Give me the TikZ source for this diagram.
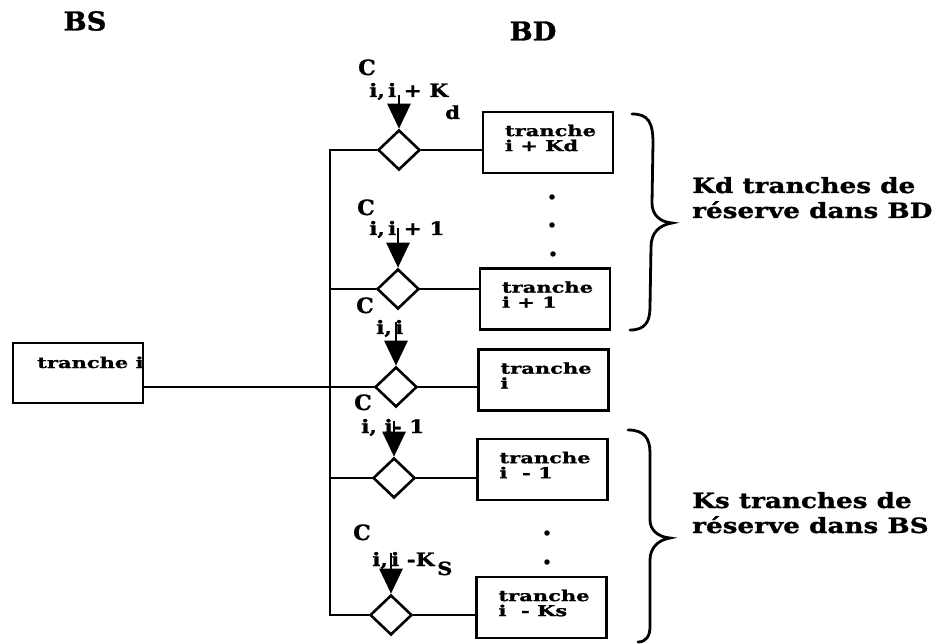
\documentclass[tikz,border=0pt]{standalone}
\usepackage{fontspec}
\setmainfont{DejaVu Serif}
\newfontfamily\tfont{DejaVu Serif}[FakeStretch=1.17,FakeBold=1.2]
\newfontfamily\bxfont{DejaVu Serif}[FakeStretch=1.4,FakeBold=1.2]
\newfontfamily\sdfont{DejaVu Serif}[FakeStretch=1.25,FakeBold=1.2]
\newfontfamily\hfont{DejaVu Serif}[FakeStretch=1.05,FakeBold=1.2]
\usetikzlibrary{shapes.geometric,arrows.meta}
\begin{document}
\begin{tikzpicture}[x=1pt,y=-1pt,
  box/.style={draw, line width=2.8pt, minimum width=130pt, minimum height=61pt, inner sep=0pt,
    font=\bxfont\bfseries\fontsize{15}{15}\selectfont},
  dia/.style={diamond, draw, line width=2.6pt, minimum width=42pt, minimum height=40pt, inner sep=0pt},
  wire/.style={line width=2.4pt},
  feed/.style={line width=2.8pt, -{Triangle[width=23pt,length=25pt]}},
  lbl/.style={font=\tfont\bfseries\fontsize{18.5}{18}\selectfont, inner sep=0pt, anchor=base west},
  clbl/.style={font=\hfont\bfseries\fontsize{21}{21}\selectfont, inner sep=0pt, anchor=base west},
  sub/.style={font=\tfont\bfseries\fontsize{18}{18}\selectfont, inner sep=0pt, anchor=base west},
  title/.style={font=\hfont\bfseries\fontsize{26}{26}\selectfont, inner sep=0pt},
  side/.style={font=\sdfont\bfseries\fontsize{21}{25}\selectfont, inner sep=0pt, anchor=base west, align=left},
  brace/.style={line width=2.8pt, line cap=round},
  dot/.style={circle, fill, inner sep=0pt, minimum size=5.5pt}
]
\useasboundingbox (0,0) rectangle (937,644);

% titles
\node[title] (BS) at (85,21) {BS};
\node[title] (BD) at (533,31) {BD};

% diamonds
\node[dia] (d1) at (399,150) {};
\node[dia] (d2) at (398,289) {};
\node[dia] (d3) at (396,387) {};
\node[dia] (d4) at (394,478) {};
\node[dia] (d5) at (391,615) {};

% boxes
\node[box] (b1) at (548,142.5) {\parbox{130pt}{\leftskip=22pt tranche\\i + Kd\par\vspace{9pt}}};
\node[box] (b2) at (545,299) {\parbox{130pt}{\leftskip=22pt tranche\\i + 1\par\vspace{9pt}}};
\node[box] (b3) at (543.5,380) {\parbox{130pt}{\leftskip=22pt tranche\\i\par\vspace{9pt}}};
\node[box] (b4) at (542.5,469.5) {\parbox{130pt}{\leftskip=22pt tranche\\i \ - 1\par\vspace{9pt}}};
\node[box] (b5) at (541.5,607.5) {\parbox{130pt}{\leftskip=22pt tranche\\i \ - Ks\par\vspace{9pt}}};

% left box
\node[box, minimum height=60pt] (L) at (78,373) {};
\node[font=\bxfont\bfseries\fontsize{15}{15}\selectfont, inner sep=0pt, anchor=base west] (Lt) at (37,368) {tranche i};

% bus
\coordinate (bt) at (330,150);
\draw[wire] (d1.west) -- (d1.west -| bt) -- (d5.west -| bt) -- (d5.west);
\draw[wire] (d2.west) -- (d2.west -| bt);
\draw[wire] (d4.west) -- (d4.west -| bt);
\draw[wire] (d3.west -| L.east) -- (d3.west);

% diamond to box
\foreach \i in {1,...,5} {\draw[wire] (d\i.east) -- (d\i.east -| b\i.west);}

% feed arrows
\coordinate (a1) at (399,95);
\coordinate (a2) at (398,228);
\coordinate (a3) at (396,322);
\coordinate (a4) at (394,421);
\coordinate (a5) at (391,553);
\foreach \i in {1,...,5} {\draw[feed] (a\i) -- (d\i.north);}

% labels
\node[clbl] (c1) at (358,75) {C};
\node[lbl] (s1) at (369,97) {i,\,i + K};
\node[sub] (t1) at (445,119) {d};

\node[clbl] (c2) at (357,215) {C};
\node[lbl] (s2) at (369,235) {i,\,i + 1};

\node[clbl] (c3) at (356,313) {C};
\node[lbl] (s3) at (376,334) {i,\,i};

\node[clbl] (c4) at (354,410) {C};
\node[lbl] (s4) at (361,433) {i, i- 1};

\node[clbl] (c5) at (353,540) {C};
\node[lbl] (s5) at (372,566) {i,\,i -K};
\node[sub] (t5) at (437,575) {S};

% dots
\node[dot] (p1) at (552,197) {};
\node[dot] (p2) at (552,225) {};
\node[dot] (p3) at (553,254) {};
\node[dot] (p4) at (547,533) {};
\node[dot] (p5) at (547,562) {};

% braces
\draw[brace] (632,114) .. controls (648,114) and (653,122) .. (653,143)
  -- (652,203) .. controls (652,215) and (660,222) .. (672,223)
  .. controls (660,225) and (651,232) .. (651,247)
  -- (650,307) .. controls (650,322) and (645,330) .. (630,330);
\draw[brace] (628,430) .. controls (644,430) and (650,438) .. (650,453)
  -- (650,520) .. controls (650,530) and (658,537) .. (670,538)
  .. controls (658,540) and (650,548) .. (650,560)
  -- (650,627) .. controls (650,636) and (646,642) .. (638,642);

% side texts
\node[side] (k1) at (692,218) {Kd tranches de\\réserve dans BD};
\node[side] (k2) at (692,533) {Ks tranches de\\réserve dans BS};
\end{tikzpicture}
\end{document}
